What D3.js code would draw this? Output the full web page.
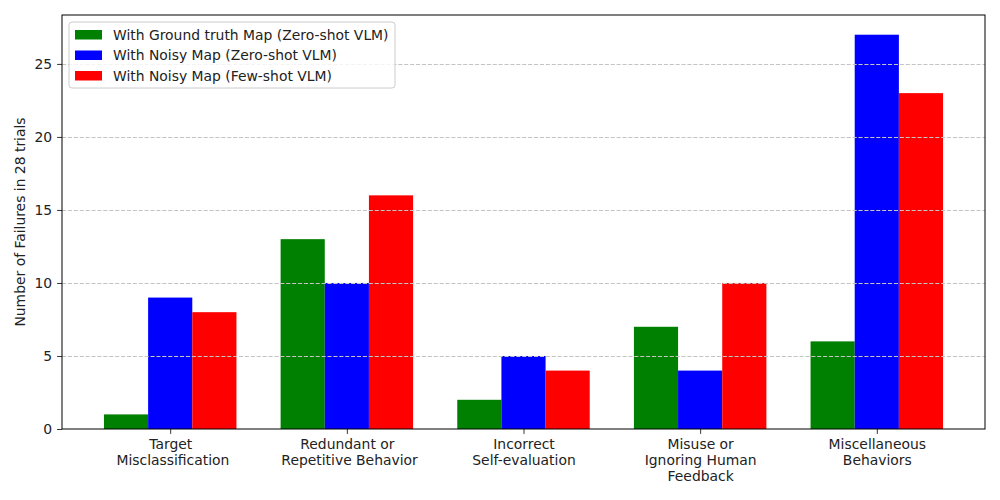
<!DOCTYPE html>
<html>
<head>
<meta charset="utf-8">
<script src="https://cdn.jsdelivr.net/npm/d3@7"></script>
<style>
  body { margin: 0; background: #fff; }
  text { font-family: "DejaVu Sans", sans-serif; fill: #222; }
</style>
</head>
<body>
<div id="chart"></div>
<script>
// Data
const categories = [
    ["Target", " Misclassification"],
    ["Redundant or", " Repetitive Behavior"],
    ["Incorrect", "Self-evaluation"],
    ["Misuse or", "Ignoring Human", "Feedback"],
    ["Miscellaneous", "Behaviors"]
];
const seriesNames = [
    "With Ground truth Map (Zero-shot VLM)",
    "With Noisy Map (Zero-shot VLM)",
    "With Noisy Map (Few-shot VLM)"
];
const seriesColors = ["green", "blue", "red"];
const groundTruthZero = [1, 13, 2, 7, 6];
const noisyZero = [9, 10, 5, 4, 27];
const noisyFew = [8, 16, 4, 10, 23];
const yTicks = [0, 5, 10, 15, 20, 25];

const allSeries = [groundTruthZero, noisyZero, noisyFew];

const width = 1000, height = 500;
const margin = { left: 62, right: 15, top: 15, bottom: 71 };
const barWidth = 0.25;

const svg = d3.select("#chart").append("svg")
    .attr("width", width)
    .attr("height", height);

// Linear x scale like matplotlib, with 5% margins
const xMin = -1.5 * barWidth, xMax = categories.length - 1 + 1.5 * barWidth;
const xPad = (xMax - xMin) * 0.05;
const x = d3.scaleLinear()
    .domain([xMin - xPad, xMax + xPad])
    .range([margin.left, width - margin.right]);

const yMax = d3.max(allSeries.flat()) * 1.05;
const y = d3.scaleLinear()
    .domain([0, yMax])
    .range([height - margin.bottom, margin.top]);

// Bars
allSeries.forEach((vals, si) => {
    svg.append("g")
        .selectAll("rect")
        .data(vals)
        .enter().append("rect")
        .attr("x", (d, i) => x(i + (si - 1) * barWidth - barWidth / 2))
        .attr("width", (d, i) => x(i + barWidth / 2) - x(i - barWidth / 2))
        .attr("y", d => y(d))
        .attr("height", d => y(0) - y(d))
        .attr("fill", seriesColors[si]);
});

// Grid lines (drawn over bars)
svg.append("g")
    .selectAll("line")
    .data(yTicks.filter(t => t > 0))
    .enter().append("line")
    .attr("x1", margin.left)
    .attr("x2", width - margin.right)
    .attr("y1", d => Math.round(y(d)) + 0.5)
    .attr("y2", d => Math.round(y(d)) + 0.5)
    .attr("stroke", "#c4c4c4")
    .attr("stroke-width", 1)
    .attr("stroke-dasharray", "4.1,1.8");

// Axes
const yAxis = svg.append("g")
    .attr("transform", `translate(${margin.left},0)`)
    .call(d3.axisLeft(y).tickValues(yTicks).tickSize(4.9).tickPadding(4.9));

const xAxis = svg.append("g")
    .attr("transform", `translate(0,${height - margin.bottom})`)
    .call(d3.axisBottom(x).tickValues(d3.range(categories.length)).tickSize(4.9).tickFormat(""));

[xAxis, yAxis].forEach(ax => {
    ax.select(".domain").remove();
    ax.selectAll(".tick line").attr("stroke", "#000").attr("stroke-width", 0.8);
    ax.selectAll("text").style("font-size", "13.9px").attr("fill", "#222");
});

// Multi-line category labels
xAxis.selectAll(".tick").each(function(d) {
    const t = d3.select(this).append("text")
        .attr("text-anchor", "middle")
        .attr("y", 20)
        .style("font-size", "13.9px")
        .attr("fill", "#222");
    categories[d].forEach((line, li) => {
        t.append("tspan")
            .attr("x", 0)
            .attr("dy", li === 0 ? 0 : 16)
            .attr("xml:space", "preserve")
            .style("white-space", "pre")
            .text(line);
    });
});

// Plot frame
svg.append("rect")
    .attr("x", margin.left)
    .attr("y", margin.top)
    .attr("width", width - margin.left - margin.right)
    .attr("height", height - margin.top - margin.bottom)
    .attr("fill", "none")
    .attr("stroke", "#000")
    .attr("stroke-width", 1);

// Y label
svg.append("text")
    .attr("transform", `translate(25,${(margin.top + height - margin.bottom) / 2}) rotate(-90)`)
    .attr("text-anchor", "middle")
    .style("font-size", "13.9px")
    .text("Number of Failures in 28 trials");

// Legend
const legend = svg.append("g").attr("transform", "translate(69,22)");
legend.append("rect")
    .attr("width", 326)
    .attr("height", 66)
    .attr("rx", 3)
    .attr("fill", "#fff")
    .attr("fill-opacity", 0.8)
    .attr("stroke", "#ccc")
    .attr("stroke-width", 1);
seriesNames.forEach((name, i) => {
    const row = legend.append("g").attr("transform", `translate(6,${8 + i * 20.5})`);
    row.append("rect")
        .attr("width", 27)
        .attr("height", 9.5)
        .attr("fill", seriesColors[i]);
    row.append("text")
        .attr("x", 38)
        .attr("y", 9.5)
        .style("font-size", "13.9px")
        .text(name);
});
</script>
</body>
</html>
